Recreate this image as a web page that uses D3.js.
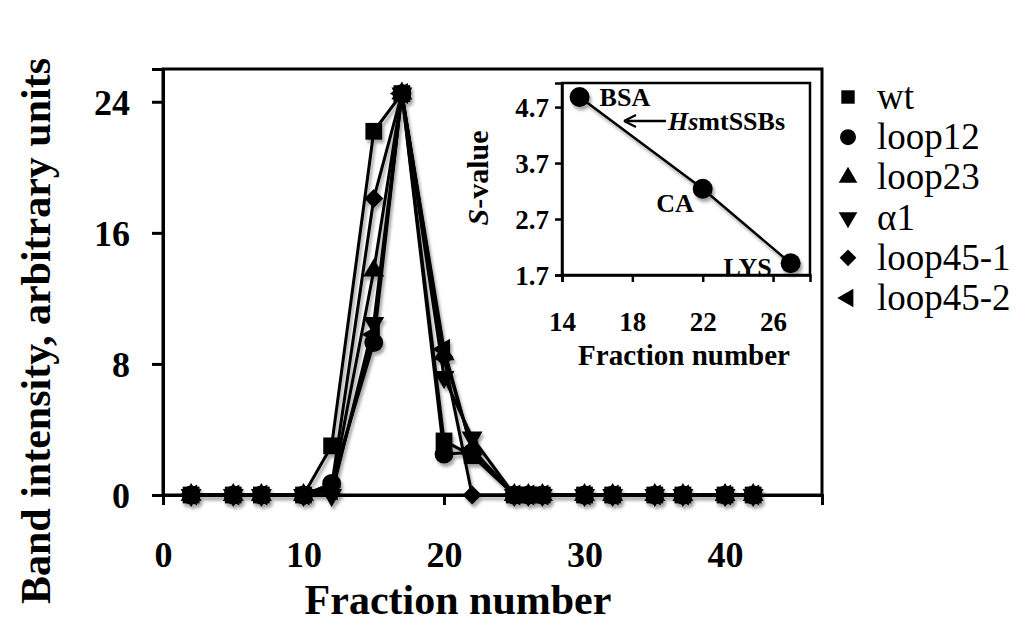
<!DOCTYPE html>
<html>
<head>
<meta charset="utf-8">
<script src="https://cdn.jsdelivr.net/npm/d3@7/dist/d3.min.js"></script>
<style>
  html, body { margin: 0; padding: 0; background: #fff; }
  svg { display: block; }
  text { font-family: "Liberation Serif", "Times New Roman", "DejaVu Serif", serif; fill: #000; }
</style>
</head>
<body>
<svg id="chart" width="1021" height="632"></svg>
<script>
// ---------------- data ----------------
const fractions = [2, 5, 7, 10, 12, 15, 17, 20, 22, 25, 26, 27, 30, 32, 35, 37, 40, 42];
const seriesNames = ["wt", "loop12", "loop23", "\u03b11", "loop45-1", "loop45-2"];
const wtValues      = [0, 0, 0, 0, 3.0, 22.2, 24.5, 3.3, 2.4, 0, 0, 0, 0, 0, 0, 0, 0, 0];
const loop12Values  = [0, 0, 0, 0, 0.7, 9.3, 24.5, 2.5, 2.6, 0, 0, 0, 0, 0, 0, 0, 0, 0];
const loop23Values  = [0, 0, 0, 0, 0.3, 13.7, 24.5, 8.6, 2.8, 0, 0, 0, 0, 0, 0, 0, 0, 0];
const alpha1Values  = [0, 0, 0, 0, 0.0, 10.5, 24.5, 7.2, 3.5, 0, 0, 0, 0, 0, 0, 0, 0, 0];
const loop451Values = [0, 0, 0, 0, 0.5, 18.1, 24.5, 8.4, 0.0, 0, 0, 0, 0, 0, 0, 0, 0, 0];
const loop452Values = [0, 0, 0, 0, 0.3, 9.8, 24.5, 8.9, 2.7, 0, 0, 0, 0, 0, 0, 0, 0, 0];
const seriesValues = [wtValues, loop12Values, loop23Values, alpha1Values, loop451Values, loop452Values];
const xTicks = [0, 10, 20, 30, 40];
const yTicks = [0, 8, 16, 24];

// inset (calibration)
const standards = ["BSA", "CA", "LYS"];
const standardFractions = [15, 22, 27];
const standardSValues = [4.88, 3.24, 1.91];
const insetXTicks = [14, 18, 22, 26];
const insetYTicks = [1.7, 2.7, 3.7, 4.7];
const insetYTickLabels = ["1.7", "2.7", "3.7", "4.7"];

// ---------------- drawing ----------------
const svg = d3.select("#chart");
const FONT = '"Liberation Serif", "Times New Roman", "DejaVu Serif", serif';

const defs = svg.append("defs");
const f = defs.append("filter").attr("id", "shadow")
  .attr("x", "-50%").attr("y", "-50%").attr("width", "200%").attr("height", "200%");
f.append("feDropShadow").attr("dx", 2).attr("dy", 3.5).attr("stdDeviation", 1.6)
  .attr("flood-color", "#000").attr("flood-opacity", 0.35);

const M = { left: 163, top: 69, right: 822, bottom: 495 };
const x = d3.scaleLinear().domain([0, 46.9]).range([M.left, M.right]);
const y = d3.scaleLinear().domain([0, 26]).range([M.bottom, M.top]);

// frame
svg.append("rect").attr("x", M.left).attr("y", M.top)
  .attr("width", M.right - M.left).attr("height", M.bottom - M.top)
  .attr("fill", "none").attr("stroke", "#000").attr("stroke-width", 3);

// axes
const xAxis = svg.append("g").attr("transform", `translate(0,${M.bottom})`)
  .call(d3.axisBottom(x).tickValues(xTicks).tickSize(10).tickFormat(d3.format("d")));
const yAxis = svg.append("g").attr("transform", `translate(${M.left},0)`)
  .call(d3.axisLeft(y).tickValues(yTicks).tickSize(11).tickFormat(d3.format("d")));
[xAxis, yAxis].forEach(g => {
  g.attr("font-family", FONT);
  g.select(".domain").attr("stroke", "#000").attr("stroke-width", 3);
  g.selectAll(".tick line").attr("stroke", "#000").attr("stroke-width", 3);
  g.selectAll("text").style("font-family", FONT).attr("font-weight", "bold")
    .attr("font-size", 36).attr("fill", "#000");
});
xAxis.selectAll("text").attr("y", 0).attr("dy", null).attr("transform", "translate(0,72)");
yAxis.selectAll("text").attr("x", -33).attr("dy", "0.34em");

// axis titles
svg.append("text").attr("x", 458).attr("y", 614).attr("text-anchor", "middle")
  .style("font-family", FONT)
  .attr("font-size", 42).attr("font-weight", "bold").text("Fraction number");
svg.append("text").attr("transform", "translate(50,331) rotate(-90)")
  .style("font-family", FONT)
  .attr("text-anchor", "middle").attr("font-size", 42).attr("font-weight", "bold")
  .text("Band intensity, arbitrary units");

// symbols
const symbolDefs = [
  { type: d3.symbolSquare, size: 280, rot: 0 },
  { type: d3.symbolCircle, size: 280, rot: 0 },
  { type: d3.symbolTriangle, size: 190, rot: 0 },
  { type: d3.symbolTriangle, size: 190, rot: 180 },
  { type: d3.symbolSquare, size: 180, rot: 45 },
  { type: d3.symbolTriangle, size: 190, rot: -90 }
];

const line = d3.line().x(d => x(d.f)).y(d => y(d.v));
const plotG = svg.append("g").attr("filter", "url(#shadow)");

seriesValues.forEach((vals, i) => {
  const pts = fractions.map((fr, j) => ({ f: fr, v: vals[j] }));
  plotG.append("path").datum(pts).attr("d", line)
    .attr("fill", "none").attr("stroke", "#000").attr("stroke-width", 3)
    .attr("stroke-linejoin", "round");
});
seriesValues.forEach((vals, i) => {
  const pts = fractions.map((fr, j) => ({ f: fr, v: vals[j] }));
  const sd = symbolDefs[i];
  plotG.selectAll(null).data(pts).enter().append("path")
    .attr("d", d3.symbol().type(sd.type).size(sd.size))
    .attr("transform", d => `translate(${x(d.f)},${y(d.v)}) rotate(${sd.rot})`)
    .attr("fill", "#000");
});

// legend
const legendY0 = 97, legendStep = 40.2;
const legendSizes = [180, 200, 150, 150, 140, 150];
seriesNames.forEach((name, i) => {
  const sd = symbolDefs[i];
  const ly = legendY0 + i * legendStep;
  svg.append("path")
    .attr("d", d3.symbol().type(sd.type).size(legendSizes[i]))
    .attr("transform", `translate(848,${ly}) rotate(${sd.rot})`)
    .attr("fill", "#000");
  svg.append("text").attr("x", 877).attr("y", ly + 12)
    .style("font-family", FONT).style("font-weight", "normal")
    .attr("font-size", 37).text(name);
});

// ---------------- inset ----------------
const I = { left: 562, top: 83, right: 810, bottom: 275 };
const ix = d3.scaleLinear().domain([14, 28.1]).range([I.left, I.right]);
const iy = d3.scaleLinear().domain([1.7, 5.13]).range([I.bottom, I.top]);

svg.append("rect").attr("x", I.left).attr("y", I.top)
  .attr("width", I.right - I.left).attr("height", I.bottom - I.top)
  .attr("fill", "#fff").attr("stroke", "#000").attr("stroke-width", 2.5);

const ixAxis = svg.append("g").attr("transform", `translate(0,${I.bottom})`)
  .call(d3.axisBottom(ix).tickValues(insetXTicks).tickSize(7).tickFormat(d3.format("d")));
const iyAxis = svg.append("g").attr("transform", `translate(${I.left},0)`)
  .call(d3.axisLeft(iy).tickValues(insetYTicks).tickSize(7)
    .tickFormat((d, k) => insetYTickLabels[k]));
[ixAxis, iyAxis].forEach(g => {
  g.attr("font-family", FONT);
  g.select(".domain").attr("stroke", "#000").attr("stroke-width", 2.5);
  g.selectAll(".tick line").attr("stroke", "#000").attr("stroke-width", 2.5);
  g.selectAll("text").style("font-family", FONT).attr("font-weight", "bold")
    .attr("font-size", 27).attr("fill", "#000");
});
ixAxis.selectAll("text").attr("y", 0).attr("dy", null).attr("transform", "translate(0,56)");
iyAxis.selectAll("text").attr("x", -13).attr("dy", "0.34em");

svg.append("text").attr("x", 684).attr("y", 365).attr("text-anchor", "middle")
  .style("font-family", FONT)
  .attr("font-size", 29).attr("font-weight", "bold").text("Fraction number");
const sv = svg.append("text").attr("transform", "translate(488,178) rotate(-90)")
  .style("font-family", FONT)
  .attr("text-anchor", "middle").attr("font-size", 30).attr("font-weight", "bold");
sv.append("tspan").attr("font-style", "italic").text("S");
sv.append("tspan").text("-value");

const insetPts = standards.map((s, k) => ({ name: s, f: standardFractions[k], v: standardSValues[k] }));
const ig = svg.append("g").attr("filter", "url(#shadow)");
ig.append("path").datum(insetPts)
  .attr("d", d3.line().x(d => ix(d.f)).y(d => iy(d.v)))
  .attr("fill", "none").attr("stroke", "#000").attr("stroke-width", 2.4);
ig.selectAll(null).data(insetPts).enter().append("circle")
  .attr("cx", d => ix(d.f)).attr("cy", d => iy(d.v)).attr("r", 10).attr("fill", "#000");

// labels
const labelOffsets = { BSA: [20, 9, "start"], CA: [-9, 23, "end"], LYS: [-19, 13, "end"] };
insetPts.forEach(d => {
  const o = labelOffsets[d.name];
  svg.append("text").attr("x", ix(d.f) + o[0]).attr("y", iy(d.v) + o[1])
    .style("font-family", FONT)
    .attr("text-anchor", o[2]).attr("font-size", 26).attr("font-weight", "bold").text(d.name);
});

// arrow to HsmtSSBs
const arrowY = 121;
svg.append("line").attr("x1", 627).attr("x2", 666).attr("y1", arrowY).attr("y2", arrowY)
  .attr("stroke", "#000").attr("stroke-width", 2.4);
svg.append("path").attr("d", `M624,${arrowY} L636,${arrowY - 6} M624,${arrowY} L636,${arrowY + 6}`)
  .attr("stroke", "#000").attr("stroke-width", 2.4).attr("fill", "none");
const hs = svg.append("text").attr("x", 668).attr("y", arrowY + 9)
  .style("font-family", FONT)
  .attr("font-size", 26).attr("font-weight", "bold");
hs.append("tspan").attr("font-style", "italic").text("Hs");
hs.append("tspan").text("mtSSBs");
</script>
</body>
</html>
